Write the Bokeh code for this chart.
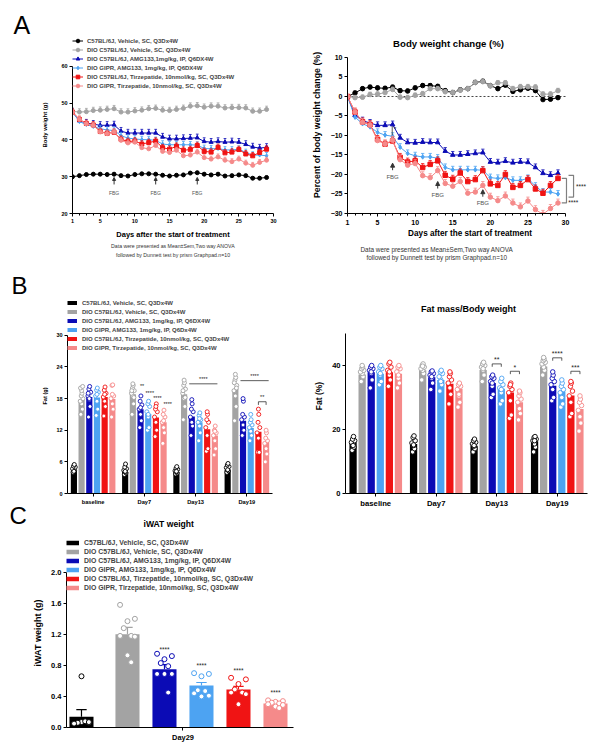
from bokeh.plotting import figure
from bokeh.models import (Range1d, FixedTicker, Legend, LegendItem, Arrow, Title, Spacer,
                          NormalHead, CustomJSTickFormatter)
from bokeh.layouts import column, row
from bokeh.embed import file_html
from bokeh.resources import INLINE
from bokeh.core.properties import value

FONT = "Liberation Sans"
BLACK, GRAY, DBLUE, LBLUE, RED, PINK = "#000000", "#a3a3a3", "#0b0bb5", "#4da3f2", "#f01414", "#f58a8a"
COLORS = [BLACK, GRAY, DBLUE, LBLUE, RED, PINK]

# ---------------- data ----------------
labels_A = ["C57BL/6J, Vehicle, SC, Q3Dx4W",
            "DIO C57BL/6J, Vehicle, SC, Q3Dx4W",
            "DIO C57BL/6J, AMG133,1mg/kg, IP, Q6DX4W",
            "DIO GIPR, AMG133, 1mg/kg, IP, Q6DX4W",
            "DIO C57BL/6J, Tirzepatide, 10nmol/kg, SC, Q3Dx4W",
            "DIO GIPR, Tirzepatide, 10nmol/kg, SC, Q3Dx4W"]
labels_BC = ["C57BL/6J, Vehicle, SC, Q3Dx4W",
             "DIO C57BL/6J, Vehicle, SC, Q3Dx4W",
             "DIO C57BL/6J, AMG133, 1mg/kg, IP, Q6DX4W",
             "DIO GIPR, AMG133, 1mg/kg, IP, Q6Dx4W",
             "DIO C57BL/6J, Tirzepatide, 10nmol/kg, SC, Q3Dx4W",
             "DIO GIPR, Tirzepatide, 10nmol/kg, SC, Q3Dx4W"]
note1 = "Data were presented as Mean\u00b1Sem,Two way ANOVA"
note2 = "followed by Dunnett test by prism Graphpad.n=10"

days = list(range(1, 30))
day_ticks = [1, 5, 10, 15, 20, 25, 30]
fbg_days = [7, 13, 19]

# body weight (g)
bw_black = [30.0, 30.3, 30.6, 30.7, 30.7, 30.6, 30.7, 30.3, 30.2, 30.6, 30.8, 30.8, 30.7, 30.4, 30.2,
            30.4, 30.5, 31.0, 31.1, 30.7, 30.5, 30.7, 30.2, 30.3, 30.5, 30.3, 29.6, 29.6, 29.8]
bw_gray = [47.8, 47.6, 47.7, 48.0, 48.1, 48.3, 48.5, 47.6, 47.6, 47.9, 48.1, 48.5, 48.6, 48.1, 48.0,
           48.3, 48.6, 49.2, 49.3, 48.9, 49.2, 49.2, 48.7, 48.8, 48.8, 48.7, 47.8, 47.8, 48.3]
bw_dblue = [47.6, 45.2, 44.6, 44.3, 44.0, 44.0, 44.1, 42.4, 41.9, 41.9, 41.9, 41.9, 41.9, 40.8, 40.3,
            40.3, 40.4, 40.5, 40.6, 39.6, 39.4, 39.6, 39.4, 39.5, 39.4, 38.8, 38.1, 37.8, 38.0]
bw_lblue = [47.6, 45.0, 44.2, 43.7, 43.1, 42.7, 42.6, 41.2, 40.5, 40.3, 40.1, 40.1, 39.9, 38.9, 38.7,
            38.7, 38.7, 38.7, 38.6, 37.7, 37.6, 37.7, 37.3, 37.3, 37.5, 36.6, 35.9, 35.9, 35.7]
bw_red = [47.6, 45.6, 44.5, 44.1, 42.3, 41.8, 42.1, 40.2, 39.6, 39.7, 38.9, 39.3, 39.7, 37.9, 37.5,
          38.3, 37.2, 37.4, 38.5, 36.9, 36.7, 38.0, 36.5, 36.7, 37.4, 36.2, 35.7, 36.6, 37.5]
bw_pink = [47.6, 45.6, 44.4, 44.0, 42.2, 41.7, 42.2, 39.9, 39.2, 39.4, 37.9, 37.6, 38.5, 36.9, 36.6,
           37.2, 35.7, 35.9, 36.7, 35.2, 34.8, 35.4, 34.5, 34.1, 34.8, 33.7, 33.1, 33.9, 34.5]
bw_sem = [0.35, 0.9, 1.0, 0.9, 0.9, 0.8]

# body weight change (%)
pc_black = [0, 0.9, 2.0, 2.4, 2.2, 2.1, 2.4, 1.5, 1.4, 2.2, 2.8, 2.8, 2.6, 1.5, 1.0,
            1.7, 2.0, 3.6, 3.9, 2.8, 2.0, 2.9, 1.3, 1.7, 2.1, 1.5, -0.8, -0.7, -0.3]
pc_gray = [0, -0.3, -0.2, 0.5, 0.6, 1.0, 1.8, -0.2, -0.3, 0.3, 0.7, 2.0, 2.0, 1.2, 1.0,
           1.6, 2.0, 3.6, 3.8, 2.7, 3.5, 3.5, 2.0, 2.5, 2.5, 2.4, 0.6, 0.6, 1.5]
pc_dblue = [0, -4.8, -6.2, -6.8, -7.4, -7.4, -7.2, -10.6, -11.8, -11.9, -11.7, -11.8, -11.8, -14.0, -15.0,
            -15.0, -14.8, -14.6, -14.4, -16.8, -17.0, -16.6, -17.0, -16.8, -16.9, -18.2, -19.7, -20.2, -19.7]
pc_lblue = [0, -5.3, -7.0, -7.8, -9.2, -9.9, -10.2, -13.0, -14.6, -15.2, -15.5, -15.5, -15.8, -18.2, -18.8,
            -18.8, -18.8, -18.8, -18.9, -20.8, -21.0, -20.8, -21.5, -21.5, -21.0, -23.0, -24.5, -24.5, -25.0]
pc_red = [0, -4.0, -6.5, -7.2, -11.0, -12.2, -11.4, -15.6, -16.8, -16.5, -18.2, -17.4, -16.5, -20.2, -21.2,
          -19.6, -21.8, -21.3, -19.0, -22.4, -22.8, -20.0, -23.3, -22.8, -21.3, -23.7, -24.8, -22.8, -21.0]
pc_pink = [0, -4.0, -6.6, -7.3, -11.3, -12.2, -11.2, -16.2, -17.6, -17.2, -20.3, -20.8, -19.0, -22.3, -23.0,
           -21.8, -24.8, -24.5, -22.8, -25.8, -26.7, -25.5, -27.3, -28.3, -26.8, -29.0, -30.2, -28.7, -27.3]
pc_sem = [0.5, 0.6, 0.9, 0.9, 1.0, 1.0]

# fat (g) and fat (%) at timepoints
timepoints = ["baseline", "Day7", "Day13", "Day19"]
fatg_black = [4.3, 4.1, 4.1, 4.5]
fatg_gray = [17.8, 18.8, 18.8, 19.8]
fatg_dblue = [18.3, 16.0, 14.6, 13.8]
fatg_lblue = [18.2, 15.1, 13.5, 12.4]
fatg_red = [18.3, 14.4, 12.2, 11.7]
fatg_pink = [17.9, 13.5, 11.0, 9.7]

fatg_pts_black = [[4.0, 4.3, 4.5, 4.7, 5.0, 5.2, 5.5, 4.2], [3.6, 3.9, 4.1, 4.4, 4.7, 5.0, 5.6, 4.2],
                  [3.7, 3.9, 4.1, 4.3, 4.6, 4.8, 5.1, 4.2], [4.0, 4.3, 4.6, 4.9, 5.1, 5.4, 5.7, 4.5]]
fatg_pts_gray = [[15.0, 16.0, 17.0, 17.5, 18.0, 18.5, 19.0, 19.5, 20.0, 20.3],
                 [15.0, 17.0, 18.5, 19.0, 19.5, 20.0, 20.5, 20.8, 19.5, 18.2],
                 [14.0, 16.5, 18.0, 19.0, 19.8, 20.5, 21.0, 21.5, 19.5, 18.2],
                 [13.8, 16.5, 18.5, 19.5, 20.5, 21.5, 22.0, 22.6, 21.0, 20.0]]
fatg_pts_dblue = [[14.5, 16.5, 17.8, 18.5, 19.2, 19.8, 20.3, 18.0, 19.0],
                  [12.5, 13.8, 15.0, 16.0, 16.8, 17.5, 18.5, 16.3],
                  [11.0, 12.8, 13.5, 14.5, 15.5, 16.0, 17.0, 17.8],
                  [11.0, 12.0, 13.0, 14.0, 14.5, 15.0, 17.5, 18.0]]
fatg_pts_lblue = [[14.8, 16.0, 17.5, 18.5, 19.2, 19.6, 20.0, 18.8],
                  [12.0, 12.5, 14.5, 15.5, 16.5, 17.0, 17.5, 15.0],
                  [10.0, 11.5, 12.8, 13.5, 14.0, 14.8, 15.3, 14.2],
                  [10.0, 11.0, 11.8, 12.5, 13.0, 13.5, 14.0, 15.0]]
fatg_pts_red = [[14.7, 16.5, 17.5, 18.3, 19.0, 19.6, 20.2, 18.8],
                [10.8, 12.0, 13.5, 14.5, 15.5, 16.0, 17.0, 16.5],
                [8.0, 8.5, 11.0, 12.5, 13.5, 14.0, 15.0, 15.5],
                [7.8, 7.8, 10.5, 11.5, 12.5, 13.5, 15.0, 16.0]]
fatg_pts_pink = [[14.5, 16.0, 17.0, 18.0, 18.5, 20.5, 20.6, 18.8],
                 [9.5, 11.5, 12.5, 13.5, 14.5, 15.0, 15.8, 13.8],
                 [7.3, 8.5, 10.0, 11.0, 11.5, 12.0, 12.8, 11.8],
                 [6.0, 7.5, 8.5, 9.5, 10.0, 10.5, 11.5, 12.0]]

fatp_black = [16.0, 15.5, 14.9, 16.3]
fatp_gray = [37.2, 38.5, 38.6, 39.7]
fatp_dblue = [37.9, 36.3, 34.5, 33.7]
fatp_lblue = [37.4, 35.5, 32.7, 31.9]
fatp_red = [37.9, 34.3, 31.6, 30.6]
fatp_pink = [37.4, 32.7, 28.5, 26.4]

fatp_pts_black = [[13.5, 14.5, 15.5, 16.0, 16.5, 17.0, 17.8, 15.0], [13.0, 14.0, 15.0, 15.8, 16.5, 17.5, 18.0, 15.2],
                  [13.0, 14.0, 14.8, 15.5, 16.0, 16.5, 17.0, 15.0], [13.0, 14.5, 15.5, 16.5, 17.0, 17.5, 17.8, 16.5]]
fatp_pts_gray = [[35.0, 36.5, 37.5, 38.0, 38.5, 39.0, 39.5, 40.0], [35.5, 37.5, 38.5, 39.0, 39.5, 40.0, 40.5, 39.8],
                 [35.0, 37.0, 38.5, 39.5, 40.0, 40.5, 41.0, 39.0], [37.0, 38.5, 39.5, 40.5, 41.0, 41.5, 42.0, 42.5]]
fatp_pts_dblue = [[33.0, 35.5, 37.5, 38.5, 39.0, 39.5, 40.0, 38.0], [32.5, 34.5, 36.0, 37.0, 37.5, 38.0, 38.3, 36.5],
                  [30.0, 31.0, 33.5, 35.0, 36.0, 36.5, 37.0, 34.5], [29.0, 30.0, 32.5, 34.0, 35.0, 36.0, 37.0, 38.0]]
fatp_pts_lblue = [[34.0, 35.0, 37.0, 38.0, 39.0, 39.5, 40.0, 37.5], [32.0, 34.0, 35.5, 36.5, 37.5, 38.0, 38.5, 35.0],
                  [28.0, 29.0, 31.5, 33.0, 34.0, 35.0, 36.0, 32.5], [27.0, 28.0, 30.0, 31.5, 32.5, 33.5, 34.5, 35.5]]
fatp_pts_red = [[33.5, 35.5, 37.0, 38.5, 39.5, 40.5, 41.0, 38.0], [28.0, 31.0, 33.0, 34.5, 35.5, 36.5, 37.5, 38.0],
                [23.5, 24.5, 29.0, 31.5, 32.5, 33.5, 34.5, 34.0], [24.0, 25.0, 28.5, 30.5, 32.0, 33.5, 34.5, 35.0]]
fatp_pts_pink = [[33.0, 34.5, 36.0, 38.0, 39.0, 39.5, 40.0, 37.0], [27.0, 28.5, 30.5, 32.5, 33.5, 34.0, 34.5, 31.0],
                 [23.0, 25.0, 26.5, 28.5, 29.5, 30.5, 31.5, 32.0], [19.5, 22.0, 24.0, 26.0, 27.5, 28.5, 29.5, 30.5]]

# iWAT weight (g) at Day29
iwat_mean = [0.14, 1.20, 0.75, 0.54, 0.49, 0.31]
iwat_sem = [0.09, 0.09, 0.06, 0.04, 0.04, 0.02]
iwat_pts = [[0.05, 0.06, 0.07, 0.06, 0.08, 0.05, 0.07, 0.66],
            [1.58, 1.40, 1.37, 1.28, 1.18, 1.18, 1.17, 0.93, 0.84],
            [0.95, 0.92, 0.88, 0.83, 0.79, 0.69, 0.69, 0.69, 0.45],
            [0.70, 0.69, 0.66, 0.48, 0.47, 0.44, 0.41, 0.40],
            [0.64, 0.62, 0.56, 0.49, 0.45, 0.45, 0.43, 0.30],
            [0.35, 0.34, 0.33, 0.32, 0.31, 0.30, 0.29, 0.27, 0.25]]

bw_all = [bw_black, bw_gray, bw_dblue, bw_lblue, bw_red, bw_pink]
pc_all = [pc_black, pc_gray, pc_dblue, pc_lblue, pc_red, pc_pink]
fatg_all = [fatg_black, fatg_gray, fatg_dblue, fatg_lblue, fatg_red, fatg_pink]
fatg_pts_all = [fatg_pts_black, fatg_pts_gray, fatg_pts_dblue, fatg_pts_lblue, fatg_pts_red, fatg_pts_pink]
fatp_all = [fatp_black, fatp_gray, fatp_dblue, fatp_lblue, fatp_red, fatp_pink]
fatp_pts_all = [fatp_pts_black, fatp_pts_gray, fatp_pts_dblue, fatp_pts_lblue, fatp_pts_red, fatp_pts_pink]

MARKERS = ["circle", "circle", "triangle", "diamond", "square", "circle"]
JITTER = [-0.5, 0.5, 0.0, -0.9, 0.9, -0.25, 0.25, 0.0, -0.7, 0.7]


# ---------------- helpers ----------------
def make_fig(w, h, xr, yr, ml, mr, mt, mb):
    p = figure(width=w, height=h, x_range=xr, y_range=yr, output_backend="svg",
               toolbar_location=None, min_border_left=ml, min_border_right=mr,
               min_border_top=mt, min_border_bottom=mb)
    p.outline_line_color = None
    p.xgrid.visible = False
    p.ygrid.visible = False
    return p


def style_axis(ax, size, label_size, standoff, label_standoff):
    ax.axis_line_color = "black"
    ax.axis_line_width = 1
    ax.major_tick_line_color = "black"
    ax.minor_tick_line_color = "black"
    ax.major_tick_in = 0
    ax.major_tick_out = 3
    ax.minor_tick_in = 0
    ax.minor_tick_out = 2
    ax.major_label_text_font = FONT
    ax.major_label_text_font_size = size
    ax.major_label_text_font_style = "bold"
    ax.major_label_text_color = "black"
    ax.major_label_standoff = standoff
    ax.axis_label_text_font = FONT
    ax.axis_label_text_font_style = "bold"
    ax.axis_label_text_color = "black"
    ax.axis_label_text_font_size = label_size
    ax.axis_label_standoff = label_standoff


def add_title(p, text, size, place, align="left", offset=0, valign="bottom", standoff=0,
              style="bold", color="black"):
    p.add_layout(Title(text=text, align=align, offset=offset, vertical_align=valign, standoff=standoff,
                       text_font=FONT, text_font_size=size, text_font_style=style, text_color=color), place)


def dtext(p, xs, ys, texts, size, color="#222222", align="center", baseline="middle", style="normal"):
    p.text(x=xs, y=ys, text=texts, text_font=value(FONT), text_font_size=value(size),
           text_color=color, text_align=align, text_baseline=baseline, text_font_style=style)


def draw_series(p, ys, sem, color, marker, size, cap, skip_first=False):
    rl = p.line(days, ys, line_color=color, line_width=1)
    xs_e = days[1:] if skip_first else days
    ys_e = ys[1:] if skip_first else ys
    tops = [y + sem for y in ys_e]
    p.segment(x0=xs_e, y0=ys_e, x1=xs_e, y1=tops, line_color=color, line_width=0.8)
    p.segment(x0=[x - cap for x in xs_e], y0=tops, x1=[x + cap for x in xs_e], y1=tops,
              line_color=color, line_width=0.8)
    rp = p.scatter(days, ys, marker=marker, size=size, fill_color=color, line_color=color)
    return rl, rp


def make_legend(items, size, glyph_w, standoff, padding, location="top_left", row_h=9):
    return Legend(items=items, location=location, margin=0, padding=padding, spacing=0,
                  label_height=row_h, glyph_height=row_h, glyph_width=glyph_w, label_standoff=standoff,
                  label_text_font=FONT, label_text_font_size=size, label_text_font_style="bold",
                  border_line_color=None, background_fill_alpha=0.0)


def bar_legend_items(p, labels, lw):
    items = []
    for lab, c in zip(labels, COLORS):
        r = p.line(x=[float("nan")], y=[float("nan")], line_color=c, line_width=lw)
        items.append(LegendItem(label=lab, renderers=[r]))
    return items


def fbg_arrow(p, x, y0, y1, head):
    p.add_layout(Arrow(end=NormalHead(size=head, fill_color="#333333", line_color="#333333"),
                       x_start=x, y_start=y0, x_end=x, y_end=y1, line_color="#333333", line_width=1))


# ---------------- Panel A left: body weight ----------------
pA1 = make_fig(292, 260, Range1d(1, 30), Range1d(20, 68.16), 64, 27, 28, 55)
pA1.xaxis.ticker = FixedTicker(ticks=day_ticks, minor_ticks=days)
pA1.yaxis.ticker = FixedTicker(ticks=[20, 30, 40, 50, 60])
pA1.yaxis.bounds = (20, 60)
pA1.xaxis.axis_label = "Days after the start of treatment"
pA1.yaxis.axis_label = "Body weight (g)"
style_axis(pA1.xaxis[0], "5.5px", "7.5px", 2, 4)
style_axis(pA1.yaxis[0], "5.5px", "6px", 2, 10)

itemsA = []
for ys, sem, c, m, lab in zip(bw_all, bw_sem, COLORS, MARKERS, labels_A):
    rl, rp = draw_series(pA1, ys, sem, c, m, 4, 0.2)
    itemsA.append(LegendItem(label=lab, renderers=[rl, rp]))
pA1.add_layout(make_legend(itemsA, "6px", 11, 4, 1))
for d in fbg_days:
    fbg_arrow(pA1, d, 27.9, 29.8, 3)
dtext(pA1, fbg_days, [25.5] * 3, ["FBG"] * 3, "5px", color="#555555")
add_title(pA1, "A", "25px", "above", offset=-59, valign="bottom", standoff=-5.4, style="normal")
add_title(pA1, note1, "5.2px", "below", align="center", valign="bottom", standoff=-2, style="normal", color="#333333")
add_title(pA1, note2, "5.2px", "below", align="center", valign="top", standoff=8, style="normal", color="#333333")

# ---------------- Panel A right: body weight change ----------------
pA2 = make_fig(292, 260, Range1d(1, 33.59), Range1d(-30, 15.38), 47, 0, 28, 55)
pA2.xaxis.ticker = FixedTicker(ticks=day_ticks, minor_ticks=days)
pA2.xaxis.bounds = (1, 30)
pA2.yaxis.ticker = FixedTicker(ticks=[-30, -25, -20, -15, -10, -5, 0, 5, 10])
pA2.yaxis.bounds = (-30, 10)
pA2.xaxis.axis_label = "Days after the start of treatment"
pA2.yaxis.axis_label = "Percent of body weight change (%)"
style_axis(pA2.xaxis[0], "7px", "8.2px", 3, 1)
style_axis(pA2.yaxis[0], "7px", "8.8px", 2, 6)
pA2.line([days[0], 30], [0, 0], line_dash="2 2", line_color="#444444", line_width=1)
for ys, sem, c, m in zip(pc_all, pc_sem, COLORS, MARKERS):
    draw_series(pA2, ys, sem, c, m, 4.5, 0.22, skip_first=True)
# significance
pA2.segment(x0=[6.95], y0=[pc_dblue[6] - 0.4], x1=[6.95], y1=[pc_lblue[6] + 0.3], line_color="#333333", line_width=0.8)
dtext(pA2, [7.2], [-8.4], ["*"], "6px", align="left")
bx1, bx2 = 31.07, 30.13
pA2.line([30.4, bx1, bx1, 30.4], [pc_dblue[-1] - 0.5, pc_dblue[-1] - 0.5, pc_lblue[-1] - 0.8, pc_lblue[-1] - 0.8],
         line_color="#808080", line_width=1.2)
pA2.line([29.5, bx2, bx2, 29.5], [pc_red[-1], pc_red[-1], pc_pink[-1], pc_pink[-1]],
         line_color="#808080", line_width=1.2)
dtext(pA2, [31.4, 30.35], [(pc_dblue[-1] + pc_lblue[-1]) / 2 - 0.6, pc_pink[-1]], ["****", "****"], "6.5px",
      align="left")
fbg_y = [-18.9, -23.6, -25.7]
for d, y in zip(fbg_days, fbg_y):
    fbg_arrow(pA2, d, y, y + 1.8, 4)
dtext(pA2, fbg_days, [y - 1.7 for y in fbg_y], ["FBG"] * 3, "6px", color="#555555")
dtext(pA2, [14.44], [13.59], ["Body weight change (%)"], "9.6px", color="black", style="bold")
add_title(pA2, note1, "6.4px", "below", offset=13, valign="bottom", standoff=5.5, style="normal", color="#333333")
add_title(pA2, note2, "6.4px", "below", offset=19, valign="top", standoff=-2.5, style="normal", color="#333333")


# ---------------- Panel B ----------------
def bar_x(i, j):
    return i + (j - 2.5) * 0.15


def grouped_bars(p, means_all, pts_all, dot, jit):
    for j, (means, pts, c) in enumerate(zip(means_all, pts_all, COLORS)):
        xs = [bar_x(i, j) for i in range(len(timepoints))]
        p.vbar(x=xs, top=means, width=0.12, fill_color=c, line_color=None)
        px, py = [], []
        for i, vals in enumerate(pts):
            for k, v in enumerate(vals):
                px.append(bar_x(i, j) + JITTER[k % len(JITTER)] * jit)
                py.append(v)
        p.scatter(px, py, marker="circle", size=dot, fill_color="white", line_color=c, line_width=0.9)


def bracket(p, x0, x1, y, drop):
    p.line([x0, x0, x1, x1], [y - drop, y, y, y - drop], line_color="#333333", line_width=0.8)


tp_ticks = list(range(len(timepoints)))
tp_over = {i: t for i, t in enumerate(timepoints)}

pB1 = make_fig(292, 263, Range1d(-0.5, 3.5), Range1d(0, 36.98), 59, 28, 29, 38)
pB1.xaxis.ticker = FixedTicker(ticks=tp_ticks)
pB1.xaxis.major_label_overrides = tp_over
pB1.yaxis.ticker = FixedTicker(ticks=[0, 6, 12, 18, 24, 30])
pB1.yaxis.bounds = (0, 30)
pB1.yaxis.axis_label = "Fat (g)"
style_axis(pB1.xaxis[0], "5.7px", "6px", 2, 2)
style_axis(pB1.yaxis[0], "5.5px", "5.6px", 2, 5)
grouped_bars(pB1, fatg_all, fatg_pts_all, 4, 0.03)
pB1.add_layout(make_legend(bar_legend_items(pB1, labels_BC, 4), "6px", 10, 5, 5))
dtext(pB1, [bar_x(1, 2) + 0.03, bar_x(1, 3) + 0.03, bar_x(1, 4) + 0.03, bar_x(1, 5) + 0.08],
      [20.4, 19.1, 18.2, 16.9], ["**", "****", "****", "****"], "5.5px")
pB1.line([bar_x(2, 2) - 0.05, bar_x(2, 5) + 0.05], [20.8, 20.8], line_color="#333333", line_width=0.8)
pB1.line([bar_x(3, 2) - 0.05, bar_x(3, 5) + 0.05], [21.4, 21.4], line_color="#333333", line_width=0.8)
bracket(pB1, bar_x(3, 4), bar_x(3, 5), 17.4, 0.6)
dtext(pB1, [(bar_x(2, 2) + bar_x(2, 5)) / 2, (bar_x(3, 2) + bar_x(3, 5)) / 2, (bar_x(3, 4) + bar_x(3, 5)) / 2],
      [21.7, 22.3, 18.3], ["****", "****", "**"], "5.5px")
add_title(pB1, "B", "24px", "above", offset=-56, valign="bottom", standoff=0, style="normal")
# letter and title of panel C sit just below panel B's axis
add_title(pB1, "C", "24px", "below", offset=-58, valign="bottom", standoff=-14.8, style="normal")
add_title(pB1, "iWAT weight", "8.6px", "below", offset=76, valign="top", standoff=-5.3)

pB2 = make_fig(292, 263, Range1d(-0.5, 3.5), Range1d(0, 60.94), 45, 5, 30, 38)
pB2.xaxis.ticker = FixedTicker(ticks=tp_ticks)
pB2.xaxis.major_label_overrides = tp_over
pB2.yaxis.ticker = FixedTicker(ticks=[0, 20, 40])
pB2.yaxis.bounds = (0, 50)
pB2.yaxis.axis_label = "Fat (%)"
style_axis(pB2.xaxis[0], "7.7px", "8px", 2, 2)
style_axis(pB2.yaxis[0], "7.5px", "8.5px", 2, 5)
grouped_bars(pB2, fatp_all, fatp_pts_all, 4.5, 0.03)
bracket(pB2, bar_x(2, 2), bar_x(2, 3), 40.5, 0.9)
bracket(pB2, bar_x(2, 4), bar_x(2, 5), 38.2, 0.9)
bracket(pB2, bar_x(3, 2), bar_x(3, 3), 42.4, 0.9)
bracket(pB2, bar_x(3, 4), bar_x(3, 5), 38.2, 0.9)
dtext(pB2, [(bar_x(2, 2) + bar_x(2, 3)) / 2, (bar_x(2, 4) + bar_x(2, 5)) / 2,
            (bar_x(3, 2) + bar_x(3, 3)) / 2, (bar_x(3, 4) + bar_x(3, 5)) / 2],
      [41.8, 39.5, 43.7, 39.5], ["**", "*", "****", "***"], "7px")
dtext(pB2, [1.533], [57.8], ["Fat mass/Body weight"], "9px", color="black", style="bold")

# ---------------- Panel C ----------------
C_GAP = 0.243
c_x = [i + (C_GAP if i > 0 else 0) for i in range(len(iwat_mean))]
C_JIT = [-0.2, 0.2, 0.0, -0.1, 0.1, -0.2, 0.2, 0.0, 0.1]

pC = make_fig(292, 214, Range1d(-0.405, 5.73), Range1d(0, 2.435), 58, 7, 7, 18)
pC.xaxis.ticker = FixedTicker(ticks=[(c_x[2] + c_x[3]) / 2])
pC.xaxis.formatter = CustomJSTickFormatter(code="return 'Day29';")
pC.yaxis.ticker = FixedTicker(ticks=[0, 0.4, 0.8, 1.2, 1.6, 2.0])
pC.yaxis.major_label_overrides = {0: "0.0", 2: "2.0"}
pC.yaxis.bounds = (0, 2.0)
pC.yaxis.axis_label = "iWAT weight (g)"
style_axis(pC.xaxis[0], "7.4px", "8px", 2, 2)
style_axis(pC.yaxis[0], "7.5px", "9px", 2, 5)
pC.vbar(x=c_x, top=iwat_mean, width=0.65, fill_color=COLORS, line_color=None)
tops = [m + s for m, s in zip(iwat_mean, iwat_sem)]
pC.segment(x0=c_x, y0=iwat_mean, x1=c_x, y1=tops, line_color=COLORS, line_width=1.2)
pC.segment(x0=[x - 0.14 for x in c_x], y0=tops, x1=[x + 0.14 for x in c_x], y1=tops,
           line_color=COLORS, line_width=1.2)
for x, pts, c in zip(c_x, iwat_pts, COLORS):
    pC.scatter([x + C_JIT[k % len(C_JIT)] for k in range(len(pts))], pts, marker="circle", size=5,
               fill_color="white", line_color=c, line_width=1)
dtext(pC, c_x[2:], [1.01, 0.80, 0.73, 0.45], ["****"] * 4, "6.5px")
pC.add_layout(make_legend(bar_legend_items(pC, labels_BC, 4.5), "6.9px", 13, 5, 1))

inner = column(row(pA1, pA2), row(pB1, pB2), pC)
layout = column(Spacer(height=8), row(Spacer(width=8), inner))
open("out.html", "w").write(file_html(layout, INLINE))
